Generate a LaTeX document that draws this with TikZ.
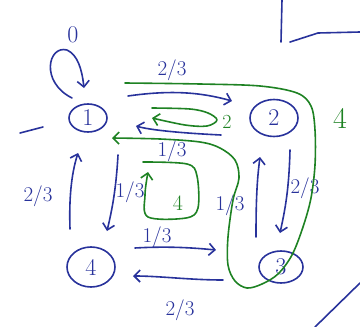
\documentclass[tikz,border=0pt]{standalone}
\usetikzlibrary{arrows.meta,shapes.geometric}
\definecolor{pen}{RGB}{40,50,155}
\definecolor{grn}{RGB}{30,130,35}
\begin{document}
\begin{tikzpicture}[x=1pt,y=-1pt, line cap=round, line join=round,
  ink/.style={draw=pen, line width=1.6pt},
  gink/.style={draw=grn, line width=1.6pt},
  tip/.style={-{Straight Barb[length=6pt,width=12pt]}},
  state/.style={ellipse, draw=pen, line width=1.6pt, text=pen, font=\fontsize{24}{24}\selectfont, inner sep=0pt},
  lab/.style={text=pen, font=\fontsize{21}{21}\selectfont, inner sep=0pt},
  glab/.style={text=grn, font=\fontsize{22}{22}\selectfont, inner sep=0pt}]
\useasboundingbox (0,0) rectangle (360,327);
% states
\node[state, minimum width=38pt, minimum height=28pt] (n1) at (88,118) {1};
\node[state, minimum width=48pt, minimum height=37pt] (n2) at (274,118) {2};
\node[state, minimum width=44pt, minimum height=32pt] (n3) at (281,267) {3};
\node[state, minimum width=48pt, minimum height=40pt] (n4) at (91,267) {4};
\node[lab, font=\fontsize{24}{24}\selectfont] (n0) at (73,35) {0};
% initial loop
\draw[ink,tip] (72,98) .. controls (40,82) and (48,45) .. (67,50) .. controls (78,55) and (82,70) .. (84,88);
% stray strokes
\draw[ink] (20,133) -- (43,127);
\draw[ink] (282,0) -- (281,42);
\draw[ink] (290,42) -- (318,33) -- (360,32);
\draw[ink] (315,327) -- (360,283);
% blue transitions
\draw[ink,tip] (128,96) .. controls (170,90) and (200,92) .. (232,101);
\node[lab] (l12) at (172,70) {2/3};
\draw[ink,tip] (221,135) .. controls (180,133) and (150,130) .. (136,126);
\node[lab] (l21) at (172,151) {1/3};
\draw[ink,tip] (118,155) .. controls (116,190) and (112,210) .. (107,231);
\node[lab] (l14) at (130,192) {1/3};
\draw[ink,tip] (70,229) .. controls (69,200) and (71,175) .. (78,153);
\node[lab] (l41) at (38,196) {2/3};
\draw[ink,tip] (135,248) .. controls (170,246) and (195,248) .. (216,250);
\node[lab] (l43) at (157,237) {1/3};
\draw[ink,tip] (223,280) .. controls (190,280) and (160,276) .. (133,276);
\node[lab] (l34) at (180,310) {2/3};
\draw[ink,tip] (256,237) .. controls (256,200) and (257,180) .. (260,157);
\node[lab] (l32) at (230,205) {1/3};
\draw[ink,tip] (290,150) .. controls (289,190) and (285,210) .. (280,233);
\node[lab] (l23) at (305,188) {2/3};
% green cycles
\draw[gink,tip] plot[smooth, tension=0.55] coordinates {(125,83) (200,84) (260,86) (297,93) (311,106) (315,130) (315,165) (311,198) (303,227) (292,255) (278,274) (262,284) (247,288) (235,281) (228,265) (228,237) (233,200) (239,178) (235,160) (220,148) (200,142) (160,139) (112,138)};
\draw[gink,tip] plot[smooth, tension=0.55] coordinates {(152,108) (190,109) (208,113) (217,120) (207,126) (185,125) (152,118)};
\node[glab, font=\fontsize{20}{20}\selectfont] (g2) at (227,122) {2};
\draw[gink,tip] plot[smooth, tension=0.55] coordinates {(143,162) (187,164) (197,176) (198,208) (186,218) (148,217) (145,195) (148,172)};
\node[glab] (g4) at (178,203) {4};
\node[glab, font=\fontsize{30}{30}\selectfont] (g4b) at (340,118) {4};
\end{tikzpicture}
\end{document}
